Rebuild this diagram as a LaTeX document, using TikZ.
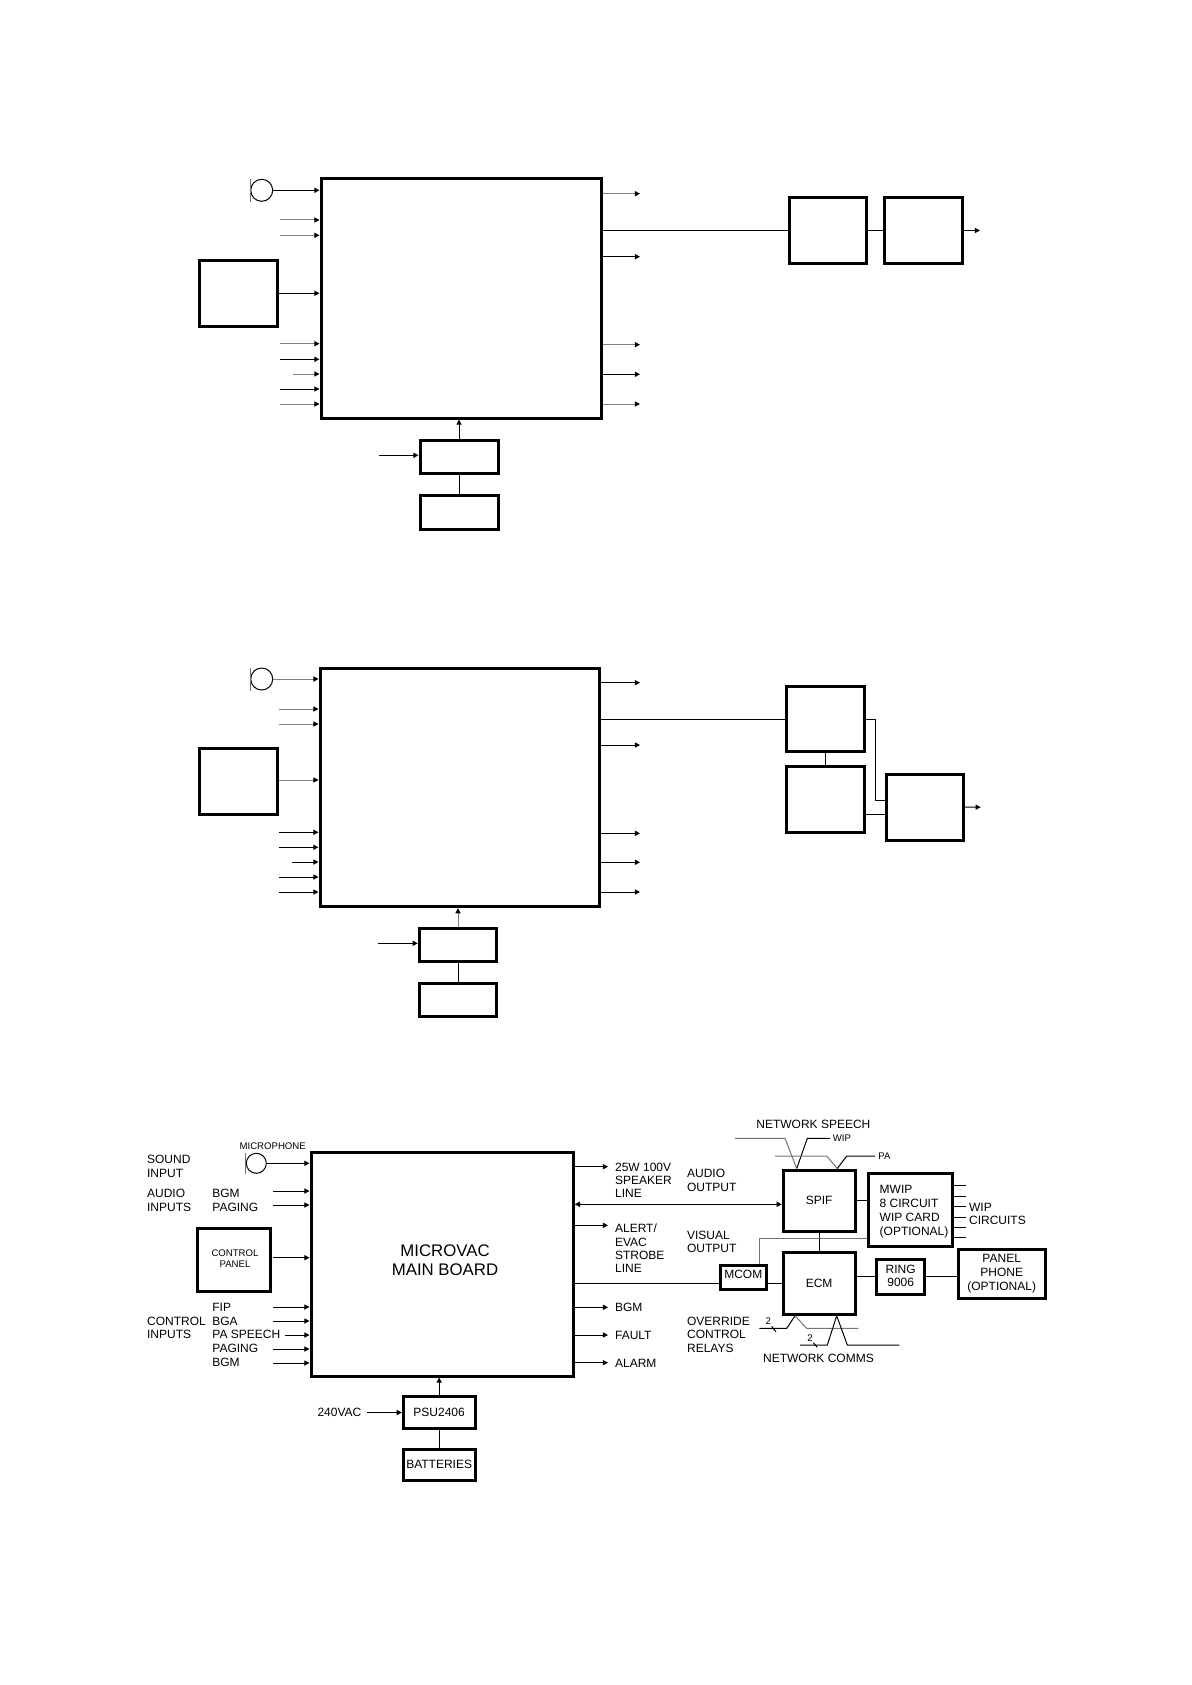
\documentclass[tikz,border=0pt]{standalone}
\usepackage{fontspec}
\setmainfont{Liberation Sans}
\usetikzlibrary{arrows.meta}
\newcommand\tnorm{\fontsize{6}{7}\selectfont}
\newcommand\tsmall{\fontsize{4.8}{5.6}\selectfont}
\newcommand\tbig{\fontsize{8.4}{10}\selectfont}
% \mybox{name}{x1}{y1}{x2}{y2}{text}
\newcommand\mybox[6]{\node[box,minimum width={(#4-#2)*0.5pt},minimum height={(#5-#3)*0.5pt}] (#1) at ({(#2+#4)/2},{(#3+#5)/2}) {#6};}
\tikzset{
  box/.style={draw, line width=1.5pt, inner sep=0pt, align=center, font=\tnorm},
  wire/.style={line width=0.5pt},
  gwire/.style={line width=0.5pt, draw=black!55},
  arr/.style={line width=0.5pt, -{Triangle[length=2.6pt,width=2.6pt,color=black]}},
  garr/.style={arr, draw=black!50},
  biarr/.style={line width=0.5pt, {Triangle[length=2.6pt,width=2.6pt]}-{Triangle[length=2.6pt,width=2.6pt]}},
  lbl/.style={anchor=base west, inner sep=0pt, font=\tnorm},
  clbl/.style={anchor=base, inner sep=0pt, font=\tnorm},
  mic/.style={draw, circle, line width=0.5pt, inner sep=0pt},
}
\begin{document}
\begin{tikzpicture}[x=0.5pt,y=-0.5pt]
\useasboundingbox (0,0) rectangle (1191,1685);

% ================= Diagram 1 =================
\mybox{mainA}{321}{179}{601}{418}{}
\node[mic, minimum size=11pt] (micA) at (261.7,190.3) {};
\draw[gwire] ([yshift=-6pt]micA.west) -- ([yshift=5.5pt]micA.west);
\draw[arr] (micA.east) -- (mainA.west |- micA.east);
\coordinate (a1) at (280,220);
\coordinate (a2) at (280,235.3);
\draw[garr] (a1) -- (mainA.west |- a1);
\draw[garr] (a2) -- (mainA.west |- a2);
\mybox{ctrlA}{199}{260}{277}{326.7}{}
\draw[arr] (ctrlA.east) -- (mainA.west |- ctrlA.east);
\coordinate (a3) at (280,343.7);
\coordinate (a4) at (280,359.3);
\coordinate (a5) at (293,374);
\coordinate (a6) at (280,389);
\coordinate (a7) at (280,404);
\draw[garr] (a3) -- (mainA.west |- a3);
\draw[arr] (a4) -- (mainA.west |- a4);
\draw[garr] (a5) -- (mainA.west |- a5);
\draw[arr] (a6) -- (mainA.west |- a6);
\draw[garr] (a7) -- (mainA.west |- a7);
\coordinate (ao1) at (640,193.7);
\coordinate (ao2) at (640,256.7);
\coordinate (ao3) at (640,344.7);
\coordinate (ao4) at (640,374.3);
\coordinate (ao5) at (640,404);
\draw[garr] (mainA.east |- ao1) -- (ao1);
\draw[arr] (mainA.east |- ao2) -- (ao2);
\draw[garr] (mainA.east |- ao3) -- (ao3);
\draw[arr] (mainA.east |- ao4) -- (ao4);
\draw[garr] (mainA.east |- ao5) -- (ao5);
\mybox{boxA1}{789}{197.3}{866.7}{263.7}{}
\mybox{boxA2}{884.3}{197.3}{962.3}{263.7}{}
\draw[wire] (mainA.east |- boxA1.west) -- (boxA1.west);
\draw[wire] (boxA1.east) -- (boxA2.west);
\coordinate (aout) at (980,230.5);
\draw[arr] (boxA2.east) -- (aout);
\mybox{psuA}{420}{440.7}{498}{473.3}{}
\mybox{batA}{420}{495.7}{498}{529}{}
\draw[arr] (psuA.north) -- (psuA.north |- mainA.south);
\coordinate (ain) at (379,455.3);
\draw[arr] (ain) -- (psuA.west |- ain);
\draw[wire] (psuA.south) -- (batA.north);

% ================= Diagram 2 =================
\mybox{mainB}{320}{668.3}{599.3}{906.7}{}
\node[mic, minimum size=11pt] (micB) at (261.7,679) {};
\draw[gwire] ([yshift=-6pt]micB.west) -- ([yshift=5.5pt]micB.west);
\draw[garr] (micB.east) -- (mainB.west |- micB.east);
\coordinate (b1) at (279,709);
\coordinate (b2) at (279,724);
\draw[garr] (b1) -- (mainB.west |- b1);
\draw[garr] (b2) -- (mainB.west |- b2);
\mybox{ctrlB}{199}{748.3}{277}{814.3}{}
\coordinate (bc) at (279,780);
\draw[garr] (bc) -- (mainB.west |- bc);
\coordinate (b3) at (279,832.3);
\coordinate (b4) at (279,847.3);
\coordinate (b5) at (292,862);
\coordinate (b6) at (279,877);
\coordinate (b7) at (279,892);
\draw[arr] (b3) -- (mainB.west |- b3);
\draw[arr] (b4) -- (mainB.west |- b4);
\draw[arr] (b5) -- (mainB.west |- b5);
\draw[arr] (b6) -- (mainB.west |- b6);
\draw[arr] (b7) -- (mainB.west |- b7);
\coordinate (bo1) at (640,682.7);
\coordinate (bo2) at (640,745);
\coordinate (bo3) at (640,833.3);
\coordinate (bo4) at (640,862.3);
\coordinate (bo5) at (640,892);
\draw[arr] (mainB.east |- bo1) -- (bo1);
\draw[arr] (mainB.east |- bo2) -- (bo2);
\draw[arr] (mainB.east |- bo3) -- (bo3);
\draw[arr] (mainB.east |- bo4) -- (bo4);
\draw[arr] (mainB.east |- bo5) -- (bo5);
\mybox{boxC}{786.7}{686}{864}{751.7}{}
\mybox{boxD}{786.7}{766.7}{864}{832.7}{}
\mybox{boxE}{886}{774}{963.3}{840.3}{}
\draw[wire] (mainB.east |- 0,719.3) -- (boxC.west |- 0,719.3);
\draw[wire] (boxC.south) -- (boxD.north);
\draw[wire] (boxC.east |- 0,719.3) -- (875.3,719.3) -- (875.3,800.7) -- (boxE.west |- 0,800.7);
\draw[wire] (boxD.east |- 0,814.3) -- (boxE.west |- 0,814.3);
\coordinate (bout) at (980.7,807.2);
\draw[arr] (boxE.east) -- (bout);
\mybox{psuB}{419.3}{928.3}{496.7}{961.7}{}
\mybox{batB}{419.3}{983.3}{496.7}{1016.7}{}
\draw[garr] (psuB.north) -- (psuB.north |- mainB.south);
\coordinate (bin) at (378,943.3);
\draw[arr] (bin) -- (psuB.west |- bin);
\draw[wire] (psuB.south) -- (batB.north);

% ================= Diagram 3 =================
\mybox{mainC}{311}{1152.7}{573.3}{1376}{}
\node[clbl, font=\tbig] (mv1) at (445,1256.7) {MICROVAC};
\node[clbl, font=\tbig] (mv2) at (445,1275.3) {MAIN BOARD};
\node[mic, minimum size=10pt] (micC) at (256.3,1163.3) {};
\draw[gwire] ([yshift=-5.2pt]micC.west) -- ([yshift=5.2pt]micC.west);
\draw[arr] (micC.east) -- (mainC.west |- micC.east);
\node[anchor=center, inner sep=0pt, font=\tsmall] (micl) at (272.7,1146) {MICROPHONE};
\node[lbl] (s1) at (146.7,1163.6) {SOUND};
\node[lbl] (s2) at (146.7,1177) {INPUT};
\node[lbl] (s3) at (146.7,1197.6) {AUDIO};
\node[lbl] (s4) at (146.7,1211) {INPUTS};
\node[lbl] (s5) at (212,1197.6) {BGM};
\node[lbl] (s6) at (212,1211) {PAGING};
\coordinate (c1) at (273.3,1191);
\coordinate (c2) at (273.3,1205);
\draw[arr] (c1) -- (mainC.west |- c1);
\draw[arr] (c2) -- (mainC.west |- c2);
\mybox{ctrlC}{197.7}{1228.7}{270}{1291}{}
\node[anchor=center, inner sep=0pt, font=\tsmall] (cp1) at (235,1253) {CONTROL};
\node[anchor=center, inner sep=0pt, font=\tsmall] (cp2) at (235,1263.7) {PANEL};
\coordinate (cc) at (273.3,1257.7);
\draw[arr] (cc) -- (mainC.west |- cc);
\node[lbl] (s7) at (146.7,1325.3) {CONTROL};
\node[lbl] (s8) at (146.7,1338.6) {INPUTS};
\node[lbl] (s9) at (212,1311) {FIP};
\node[lbl] (s10) at (212,1325.3) {BGA};
\node[lbl] (s11) at (212,1338.6) {PA SPEECH};
\node[lbl] (s12) at (212,1352.6) {PAGING};
\node[lbl] (s13) at (212,1366.6) {BGM};
\coordinate (c3) at (273.3,1307);
\coordinate (c4) at (273.3,1321);
\coordinate (c5) at (285,1335);
\coordinate (c6) at (273.3,1349);
\coordinate (c7) at (273.3,1363);
\draw[arr] (c3) -- (mainC.west |- c3);
\draw[arr] (c4) -- (mainC.west |- c4);
\draw[arr] (c5) -- (mainC.west |- c5);
\draw[arr] (c6) -- (mainC.west |- c6);
\draw[arr] (c7) -- (mainC.west |- c7);
% right outputs
\coordinate (co1) at (608,1166.7);
\coordinate (co2) at (608,1225.3);
\coordinate (co3) at (608,1307.3);
\coordinate (co4) at (608,1335);
\coordinate (co5) at (608,1362.7);
\draw[arr] (mainC.east |- co1) -- (co1);
\draw[arr] (mainC.east |- co2) -- (co2);
\draw[arr] (mainC.east |- co3) -- (co3);
\draw[arr] (mainC.east |- co4) -- (co4);
\draw[arr] (mainC.east |- co5) -- (co5);
\node[lbl] (r1) at (614.7,1171) {25W 100V};
\node[lbl] (r2) at (614.7,1184.3) {SPEAKER};
\node[lbl] (r3) at (614.7,1197.6) {LINE};
\node[lbl] (r4) at (686.7,1177) {AUDIO};
\node[lbl] (r5) at (686.7,1191) {OUTPUT};
\node[lbl] (r6) at (614.7,1232) {ALERT/};
\node[lbl] (r7) at (614.7,1246) {EVAC};
\node[lbl] (r8) at (614.7,1259.3) {STROBE};
\node[lbl] (r9) at (614.7,1272.6) {LINE};
\node[lbl] (r10) at (686.7,1239.3) {VISUAL};
\node[lbl] (r11) at (686.7,1252.6) {OUTPUT};
\node[lbl] (r12) at (614.7,1311.6) {BGM};
\node[lbl] (r13) at (614.7,1339.3) {FAULT};
\node[lbl] (r14) at (614.7,1367) {ALARM};
\node[lbl] (r15) at (686.7,1325) {OVERRIDE};
\node[lbl] (r16) at (686.7,1338.6) {CONTROL};
\node[lbl] (r17) at (686.7,1352) {RELAYS};
\node[lbl] (r18) at (762.7,1362.6) {NETWORK COMMS};
\node[lbl] (r19) at (756,1128.6) {NETWORK SPEECH};
% boxes
\mybox{spif}{783.3}{1170}{855}{1231.7}{SPIF}
\mybox{mwip}{868.7}{1173.3}{952.7}{1246}{}
\node[lbl] (m1) at (879.3,1193.6) {MWIP};
\node[lbl] (m2) at (879.3,1207.6) {8 CIRCUIT};
\node[lbl] (m3) at (879.3,1221) {WIP CARD};
\node[lbl] (m4) at (879.3,1235) {(OPTIONAL)};
\mybox{ecm}{783.3}{1252.7}{855}{1314.3}{ECM}
\mybox{mcom}{720.7}{1265.7}{766}{1289}{}
\node[clbl] (mc) at (743.3,1278.6) {MCOM};
\mybox{ring}{876}{1259}{924}{1294}{}
\node[clbl] (rg1) at (900.7,1273.3) {RING};
\node[clbl] (rg2) at (900.7,1286.6) {9006};
\mybox{panel}{958.3}{1249}{1045}{1298.3}{}
\node[clbl] (p1) at (1001.7,1262.6) {PANEL};
\node[clbl] (p2) at (1001.7,1276.6) {PHONE};
\node[clbl] (p3) at (1001.7,1290) {(OPTIONAL)};
\node[lbl] (w1) at (968.7,1211) {WIP};
\node[lbl] (w2) at (968.7,1224.3) {CIRCUITS};
% connections
\draw[biarr] (mainC.east |- 0,1204.3) -- (spif.west |- 0,1204.3);
\draw[wire] (mainC.east |- 0,1283) -- (mcom.west |- 0,1283);
\draw[wire] (mcom.east |- 0,1283) -- (ecm.west |- 0,1283);
\draw[wire] (spif.east) -- (mwip.west |- spif.east);
\draw[wire] (spif.south) -- (ecm.north);
\draw[gwire] (mcom.north -| 759,0) -- (759,1238.3) -- (mwip.west |- 0,1238.3);
\draw[wire] (ecm.east |- 0,1276) -- (ring.west |- 0,1276);
\draw[wire] (ring.east |- 0,1276) -- (panel.west |- 0,1276);
\foreach \yy/\nm in {1185.3/wa,1196/wb,1206.7/wc,1217.3/wd,1227.7/we,1237.3/wf}{
  \coordinate (\nm) at (966,\yy);
  \draw[wire] (mwip.east |- \nm) -- (\nm);
}
\mybox{psuC}{403.3}{1396.7}{475}{1428.3}{PSU2406}
\mybox{batC}{403.3}{1449.3}{475}{1480}{BATTERIES}
\draw[arr] (psuC.north) -- (psuC.north |- mainC.south);
\coordinate (cin) at (366.7,1412.5);
\draw[arr] (cin) -- (psuC.west |- cin);
\node[anchor=base east, inner sep=0pt, font=\tnorm] (vac) at (361.7,1416.8) {240VAC};
\draw[wire] (psuC.south) -- (batC.north);
% network speech wires
\coordinate (ns1) at (735,1138.3);
\coordinate (ns2) at (830,1138.3);
\coordinate (ns3) at (775,1156);
\coordinate (ns4) at (875,1156);
\draw[gwire] (ns1) -- (785,1138.3) -- (spif.north -| 796.7,0);
\draw[wire] (spif.north -| 796.7,0) -- (807.3,1138.3) -- (ns2);
\draw[gwire] (ns3) -- (826.7,1156) -- (spif.north -| 837.3,0);
\draw[wire] (spif.north -| 837.3,0) -- (846.7,1156) -- (ns4);
\node[anchor=west, inner sep=0pt, font=\tsmall] (wipl) at (832.5,1138.3) {WIP};
\node[anchor=west, inner sep=0pt, font=\tsmall] (pal) at (878,1156) {PA};
% override / comms wires
\coordinate (ov1) at (759.3,1328.3);
\coordinate (ov2) at (858.3,1328.3);
\coordinate (nc1) at (800,1345);
\coordinate (nc2) at (899.3,1345);
\draw[wire] (ov1) -- (786.7,1328.3) -- (ecm.south -| 795,0);
\draw[gwire] (ecm.south -| 795,0) -- (806.7,1328.3) -- (ov2);
\draw[wire] (nc1) -- (827.3,1345) -- (ecm.south -| 836.7,0);
\draw[wire] (ecm.south -| 836.7,0) -- (847.3,1345) -- (nc2);
\node[anchor=center, inner sep=0pt, font=\tsmall] (two1) at (768.3,1321.5) {2};
\draw[wire] (771.7,1326.5) -- (776,1331.7);
\node[anchor=center, inner sep=0pt, font=\tsmall] (two2) at (810,1338.3) {2};
\draw[wire] (813.3,1342.7) -- (817.3,1347.3);
\end{tikzpicture}
\end{document}
